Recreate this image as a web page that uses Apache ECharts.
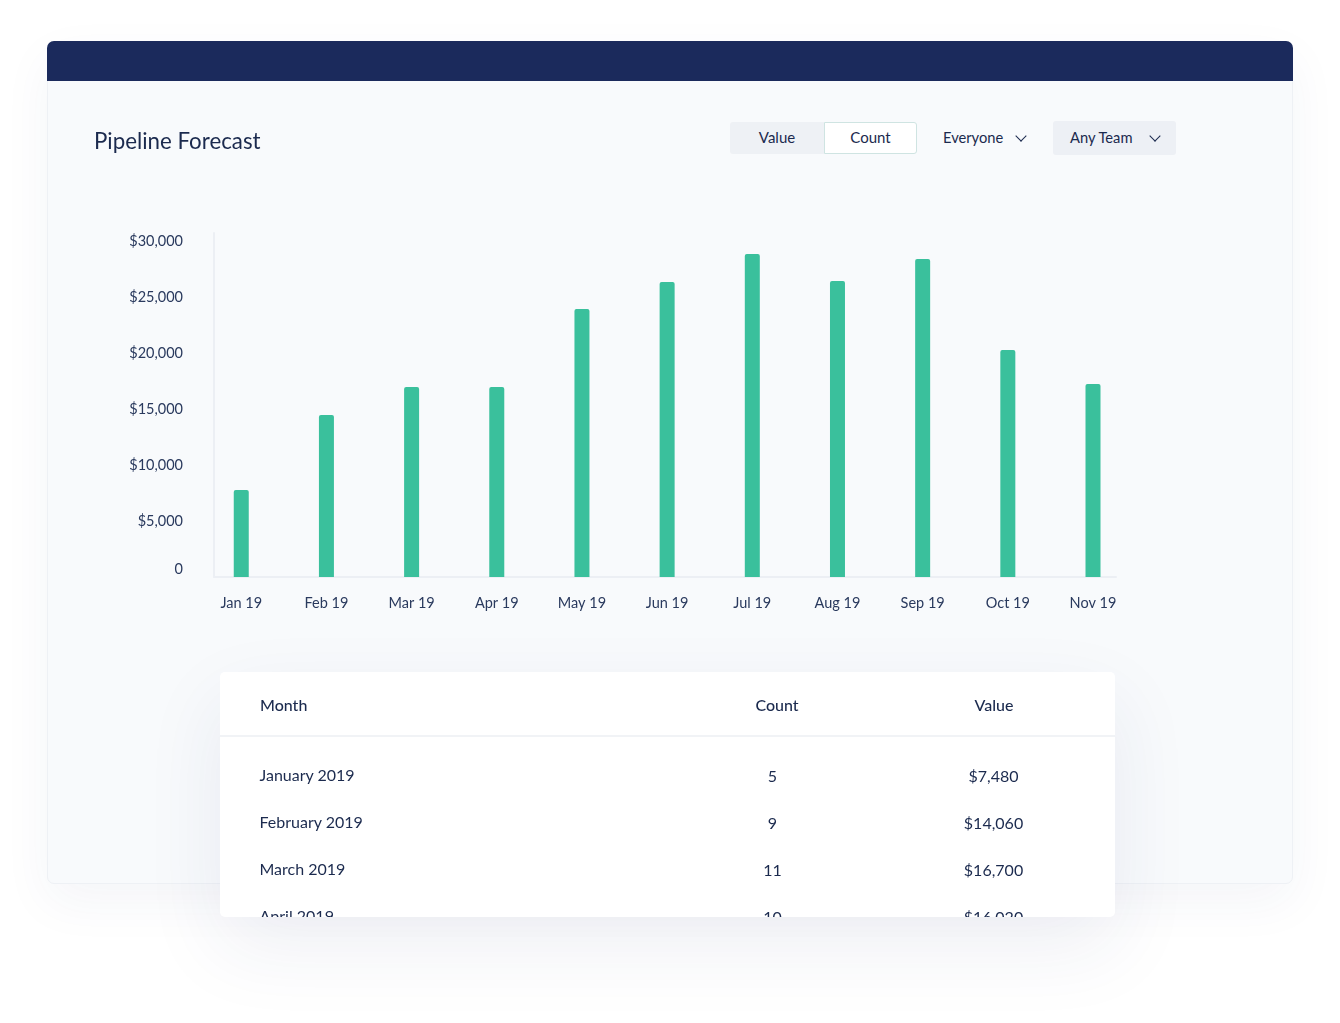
<!DOCTYPE html>
<html>
<head>
<meta charset="utf-8">
<title>Pipeline Forecast</title>
<script src="https://cdn.jsdelivr.net/npm/echarts@6/dist/echarts.min.js"></script>
<style>
    html, body { margin: 0; padding: 0; background: #fff; }
    body { width: 1340px; height: 1023px; position: relative; overflow: hidden; font-family: Lato, "Noto Sans", sans-serif; color: #1b2a4e; }
    .abs { position: absolute; white-space: nowrap; }
    #panel { left: 47px; top: 41px; width: 1246px; height: 843px; box-sizing: border-box; background: #f8fafc; border: 1px solid #eef1f5; border-radius: 7px; box-shadow: 0 18px 50px rgba(40, 55, 110, 0.05); }
    #topbar { left: 47px; top: 41px; width: 1246px; height: 40px; background: #1b2a5c; border-radius: 7px 7px 0 0; }
    #chart { left: 0; top: 0; width: 1340px; height: 1023px; }
    .btn { height: 32px; line-height: 31px; text-align: center; font-size: 15px; box-sizing: border-box; }
    #btnValue { left: 730px; top: 122px; width: 94px; background: #eef1f5; border-radius: 3px 0 0 3px; }
    #btnCount { left: 824px; top: 122px; width: 93px; background: #fff; border: 1px solid #cfe4e2; border-radius: 0 3px 3px 0; line-height: 29px; }
    #teamBox { left: 1053px; top: 121px; width: 123px; height: 34px; background: #edf0f5; border-radius: 3px; }
    .ddText { font-size: 14.7px; line-height: 20px; top: 127px; }
    .chev { top: 132px; width: 7px; height: 7px; border-right: 1.5px solid #1b2a4e; border-bottom: 1.5px solid #1b2a4e; transform: rotate(45deg); }
    #card { left: 220px; top: 672px; width: 895px; height: 245px; background: #fff; border-radius: 5px; overflow: hidden; box-shadow: 0 30px 80px rgba(40, 55, 110, 0.08); }
    #card .divider { position: absolute; left: 0; top: 63px; width: 895px; height: 2px; background: #f1f3f6; }
    .cell { position: absolute; font-size: 16px; line-height: 22px; white-space: nowrap; }
    .mid { transform: translateX(-50%); }
    .head { font-weight: 500; }
</style>
</head>
<body>
<div id="panel" class="abs"></div>
<div id="topbar" class="abs"></div>
<div id="btnValue" class="abs btn">Value</div>
<div id="btnCount" class="abs btn">Count</div>
<div class="abs ddText" style="left:943px">Everyone</div>
<div class="abs chev" style="left:1017px"></div>
<div id="teamBox" class="abs"></div>
<div class="abs ddText" style="left:1070px">Any Team</div>
<div class="abs chev" style="left:1151px"></div>
<div id="chart" class="abs"></div>
<div id="card" class="abs"><div class="divider"></div></div>

<script>
const chartTitle = 'Pipeline Forecast';
const monthLabels = ['Jan 19', 'Feb 19', 'Mar 19', 'Apr 19', 'May 19', 'Jun 19', 'Jul 19', 'Aug 19', 'Sep 19', 'Oct 19', 'Nov 19'];
const forecastValues = [7770, 14460, 16960, 16960, 23930, 26340, 28840, 26430, 28390, 20270, 17230];
const yTicks = [0, 5000, 10000, 15000, 20000, 25000, 30000];

const tableHeaders = ['Month', 'Count', 'Value'];
const tableMonths = ['January 2019', 'February 2019', 'March 2019', 'April 2019'];
const tableCounts = ['5', '9', '11', '10'];
const tableValues = ['$7,480', '$14,060', '$16,700', '$16,020'];

document.addEventListener('DOMContentLoaded', function() {
    initializeForecastChart();
    fillTable();
});

function initializeForecastChart() {
    const chart = echarts.init(document.getElementById('chart'));
    const xTicks = monthLabels.map(function(m, i) { return i; });
    const textColor = '#2a3a5e';
    const lineColor = '#eceff4';

    const option = {
        animation: false,
        title: {
            text: chartTitle,
            left: 94,
            top: 131,
            padding: 0,
            textStyle: { color: '#1b2a4e', fontFamily: 'Lato', fontSize: 22.3, fontWeight: 'normal' }
        },
        grid: { left: 214, top: 233, width: 902, height: 344 },
        xAxis: {
            type: 'value',
            min: -0.32,
            max: 10.27,
            splitLine: { show: false },
            axisLine: { show: true, onZero: false, lineStyle: { color: lineColor, width: 2 } },
            axisTick: { show: false },
            axisLabel: {
                customValues: xTicks,
                margin: 19,
                color: textColor,
                fontFamily: 'Lato',
                fontSize: 14.5,
                formatter: function(value) { return monthLabels[value]; }
            }
        },
        yAxis: {
            type: 'value',
            min: 0,
            max: 30714,
            splitLine: { show: false },
            axisLine: { show: true, onZero: false, lineStyle: { color: lineColor, width: 2 } },
            axisTick: { show: false },
            axisLabel: {
                customValues: yTicks,
                margin: 31,
                color: textColor,
                fontFamily: 'Lato',
                fontSize: 14.5,
                verticalAlignMinLabel: 'bottom',
                formatter: function(value) {
                    return value === 0 ? '0' : '$' + value.toLocaleString('en-US');
                }
            }
        },
        series: [
            {
                name: 'Value',
                type: 'bar',
                barWidth: 15,
                itemStyle: { color: '#3ac09c', borderRadius: [2, 2, 0, 0] },
                data: forecastValues.map(function(v, i) { return [i, v]; })
            }
        ]
    };

    chart.setOption(option);
}

function addCell(card, text, x, y, centered, cls) {
    const el = document.createElement('div');
    el.className = 'cell' + (centered ? ' mid' : '') + (cls ? ' ' + cls : '');
    el.textContent = text;
    el.style.left = x + 'px';
    el.style.top = y + 'px';
    card.appendChild(el);
}

function fillTable() {
    const card = document.getElementById('card');
    addCell(card, tableHeaders[0], 40, 22, false, 'head');
    addCell(card, tableHeaders[1], 557, 22, true, 'head');
    addCell(card, tableHeaders[2], 774, 22, true, 'head');
    tableMonths.forEach(function(m, i) {
        const top = 92 + i * 47;
        addCell(card, m, 39.5, top, false);
        addCell(card, tableCounts[i], 552.5, top + 1, true);
        addCell(card, tableValues[i], 773.5, top + 1, true);
    });
}
</script>
</body>
</html>
